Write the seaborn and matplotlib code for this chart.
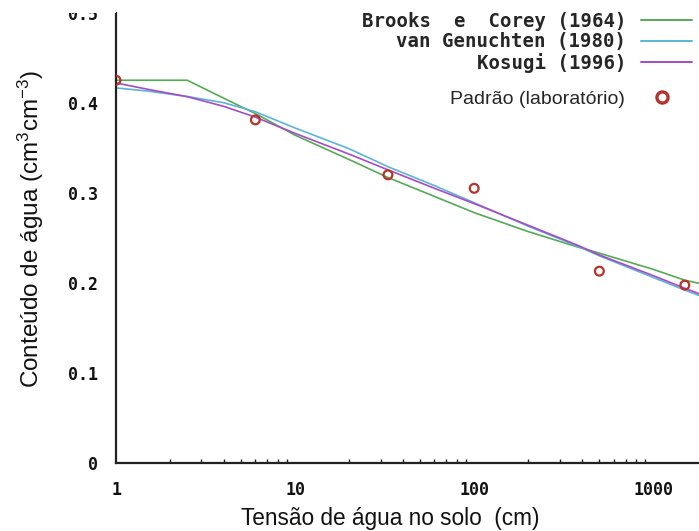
import numpy as np
import pandas as pd
import matplotlib
matplotlib.use("Agg")
import matplotlib.pyplot as plt
from matplotlib.lines import Line2D
from matplotlib.patches import Rectangle
from matplotlib.ticker import FixedLocator, FixedFormatter, LogLocator, NullFormatter
import seaborn as sns

# Soil water tension (cm) at which each fitted retention curve is tabulated
tensao = [1, 1.5, 2.5, 4, 6, 10, 20, 33, 60, 100, 200, 376, 500, 1000, 1500, 1800]

# Fitted water content (cm3 cm-3) for each model
brooks_corey = [0.425, 0.425, 0.425, 0.405, 0.388, 0.364, 0.337, 0.317, 0.296, 0.278,
                0.257, 0.240, 0.233, 0.215, 0.203, 0.1995]
van_genuchten = [0.4165, 0.413, 0.407, 0.400, 0.390, 0.372, 0.349, 0.329, 0.308, 0.289,
                 0.263, 0.241, 0.230, 0.206, 0.192, 0.186]
kosugi = [0.422, 0.415, 0.4067, 0.396, 0.384, 0.366, 0.343, 0.3255, 0.305, 0.288,
          0.264, 0.242, 0.231, 0.208, 0.194, 0.188]

# Laboratory measurements
tensao_lab = [1, 6, 33, 100, 500, 1500]
theta_lab = [0.425, 0.381, 0.320, 0.305, 0.213, 0.1975]

modelos = ["Brooks  e  Corey (1964)", "van Genuchten (1980)", "Kosugi (1996)"]
cores = ["#55aa55", "#5bb4d8", "#a64ac9"]
cor_lab = "#b8322a"

x_ticks = [1, 10, 100, 1000]
x_labels = ["1", "10", "100", "1000"]
y_ticks = [0, 0.1, 0.2, 0.3, 0.4, 0.5]
y_labels = ["0", "0.1", "0.2", "0.3", "0.4", "0.5"]

curvas = pd.DataFrame({
    "h": tensao * 3,
    "theta": brooks_corey + van_genuchten + kosugi,
    "modelo": [m for m in modelos for _ in tensao],
})
lab = pd.DataFrame({"h": tensao_lab, "theta": theta_lab})

sns.set_style("white")
plt.rcParams["mathtext.fontset"] = "custom"
plt.rcParams["mathtext.rm"] = "Liberation Sans"
plt.rcParams["mathtext.it"] = "Liberation Sans:italic"

fig = plt.figure(figsize=(6.99, 5.31), dpi=100)
ax = fig.add_axes([116 / 699, 68 / 531, 583 / 699, 450.3 / 531])

sns.lineplot(data=curvas, x="h", y="theta", hue="modelo", hue_order=modelos,
             palette=cores, linewidth=1.2, legend=False, ax=ax, sort=False)
sns.scatterplot(data=lab, x="h", y="theta", marker="o", s=40, facecolor="none",
                edgecolor=cor_lab, linewidth=1.6, ax=ax, zorder=5)

ax.set_xscale("log")
ax.set_xlim(1, 1800)
ax.set_ylim(0, 0.5)

mono = {"family": "DejaVu Sans Mono", "weight": "bold", "size": 12}
ax.xaxis.set_major_locator(FixedLocator(x_ticks))
ax.xaxis.set_major_formatter(FixedFormatter(x_labels))
ax.xaxis.set_minor_locator(LogLocator(base=10, subs=np.arange(2, 10)))
ax.xaxis.set_minor_formatter(NullFormatter())
ax.yaxis.set_major_locator(FixedLocator(y_ticks))
ax.yaxis.set_major_formatter(FixedFormatter(y_labels))
for lbl in ax.get_xticklabels() + ax.get_yticklabels():
    lbl.set_fontproperties(mono)

ax.tick_params(axis="both", which="major", direction="in", length=6, width=1.2,
               color="#222222", pad=13, labelcolor="#111111")
ax.tick_params(axis="x", which="minor", direction="in", length=3, width=1.0,
               color="#222222", bottom=True)

for side in ["top", "right"]:
    ax.spines[side].set_visible(False)
for side in ["left", "bottom"]:
    ax.spines[side].set_linewidth(1.6)
    ax.spines[side].set_color("#222222")

ax.set_xlabel("Tensão de água no solo  (cm)", fontfamily="Liberation Sans",
              fontsize=16.3, color="#111111")
ax.xaxis.set_label_coords((390 - 116) / 583, -(518 - 463) / 450.3)
ax.xaxis.label.set_va("center")
ax.set_ylabel("Conteúdo de água (cm$^{3}$cm$^{-3}$)", fontfamily="Liberation Sans",
              fontsize=17.5, color="#111111")
ax.yaxis.set_label_coords((31 - 116) / 583, (463 - 229) / 450.3)
ax.yaxis.label.set_va("center")

# Key for the model curves: text on the left, line sample on the right
handles = [Line2D([], [], color=c, linewidth=1.4) for c in cores]
leg1 = ax.legend(handles, modelos, loc="upper right", markerfirst=False, frameon=False,
                 bbox_to_anchor=(692 / 699, 1 - 12 / 531), bbox_transform=fig.transFigure,
                 borderpad=0, borderaxespad=0, handlelength=2.7, handletextpad=0.75,
                 labelspacing=0.07, prop={"family": "DejaVu Sans Mono", "weight": "bold",
                                          "size": 13.7})
ax.add_artist(leg1)

# Key for the laboratory points
ponto = Line2D([], [], linestyle="", marker="o", markersize=8, markerfacecolor="none",
               markeredgecolor=cor_lab, markeredgewidth=2.4)
leg2 = ax.legend([ponto], ["Padrão (laboratório)"], loc="upper right", markerfirst=False,
                 frameon=False, bbox_to_anchor=(687 / 699, 1 - 90 / 531),
                 bbox_transform=fig.transFigure, borderpad=0, borderaxespad=0,
                 handlelength=2.6, handletextpad=0.6,
                 prop={"family": "Liberation Sans", "size": 14})

# Blank margin band along the top edge of the figure
fig.patches.append(Rectangle((0, 1 - 13 / 531), 116 / 699, 13 / 531,
                             transform=fig.transFigure, facecolor="white",
                             edgecolor="none", zorder=10))

fig.savefig("out.png", dpi=100)
